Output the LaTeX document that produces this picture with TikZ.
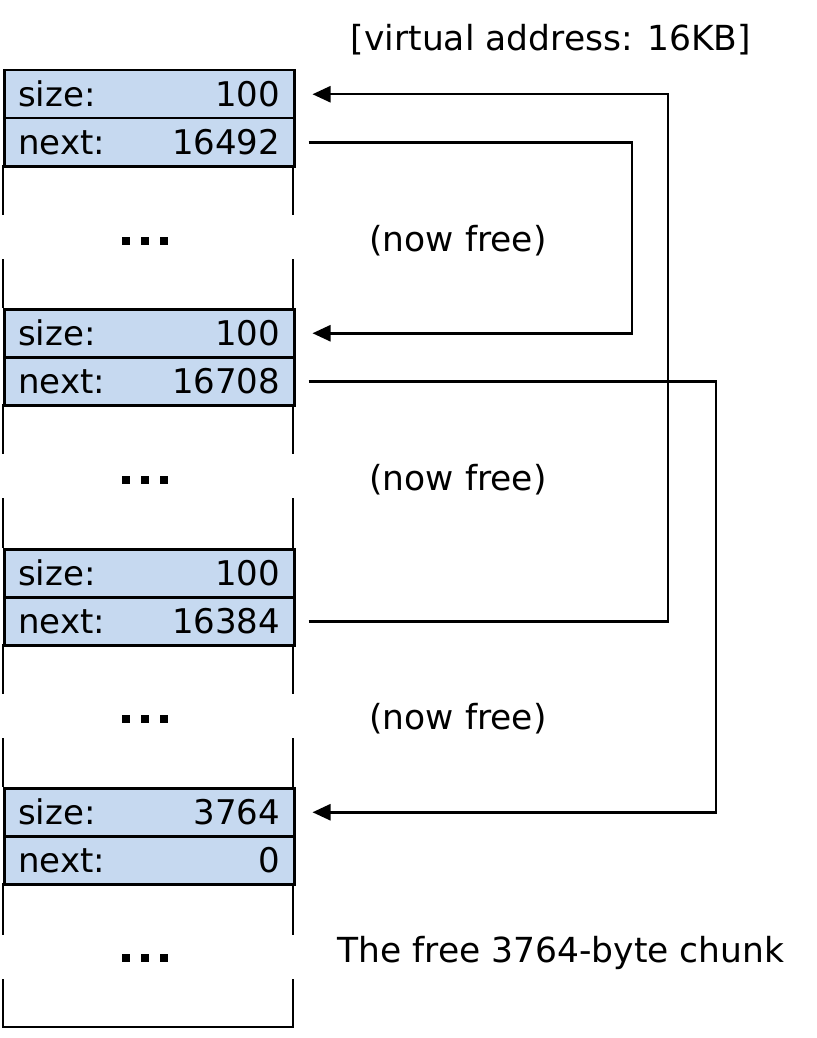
\documentclass[tikz,border=0pt]{standalone}
\usepackage{fontspec}
\setmainfont{DejaVu Sans}
\usetikzlibrary{arrows.meta}

\definecolor{cellblue}{RGB}{198,217,240}
\tikzset{
  row/.style={draw, line width=2.5pt, fill=cellblue, minimum height=48pt,
    text width=262pt, inner xsep=14pt, inner ysep=0pt, anchor=north west,
    font=\fontsize{34}{40}\selectfont},
  label/.style={font=\fontsize{34.5}{40}\selectfont},
  side/.style={line width=2.5pt},
  link/.style={line width=2.5pt, -{Triangle[length=18pt,width=16pt]},
    shorten <=13pt, shorten >=17pt},
}
\newcommand{\threedots}[1]{%
  \fill (122,#1-4) rectangle ++(8,8);
  \fill (141,#1-4) rectangle ++(8,8);
  \fill (160,#1-4) rectangle ++(8,8);
}

\begin{document}
\begin{tikzpicture}[x=1pt,y=-1pt]
	\useasboundingbox (0,0) rectangle (816,1038);
	
	\node[row] (s1) at (3,69)  {size:\hfill 100};
	\node[row] (n1) at (3,117) {next:\hfill 16492};
	\draw[side] (3,165) -- (3,215) (293,165) -- (293,215);
	\threedots{241}
	\draw[side] (3,259) -- (3,308) (293,259) -- (293,308);
	
	\node[row] (s2) at (3,308) {size:\hfill 100};
	\node[row] (n2) at (3,356) {next:\hfill 16708};
	\draw[side] (3,404) -- (3,454) (293,404) -- (293,454);
	\threedots{480}
	\draw[side] (3,498) -- (3,548) (293,498) -- (293,548);
	
	\node[row] (s3) at (3,548) {size:\hfill 100};
	\node[row] (n3) at (3,596) {next:\hfill 16384};
	\draw[side] (3,644) -- (3,694) (293,644) -- (293,694);
	\threedots{719}
	\draw[side] (3,738) -- (3,787) (293,738) -- (293,787);
	
	\node[row] (s4) at (3,787) {size:\hfill 3764};
	\node[row] (n4) at (3,835) {next:\hfill 0};
	\draw[side] (3,883) -- (3,935) (293,883) -- (293,935);
	\threedots{958}
	\draw[side] (3,979) -- (3,1027) -- (293,1027) -- (293,979);
	
	\node[label] (va) at (551,40) {[virtual address: 16KB]};
	\node[label] (f1) at (458,241) {(now free)};
	\node[label] (f2) at (458,480) {(now free)};
	\node[label] (f3) at (458,719) {(now free)};
	\node[label] (chunk) at (561,953) {The free 3764-byte chunk};
	
	\coordinate (c1) at (668,0);
	\coordinate (c2) at (632,0);
	\coordinate (c3) at (716,0);
	\draw[link] (n3.east) -- (n3.east -| c1) |- (s1.east);
	\draw[link] (n1.east) -- (n1.east -| c2) |- (s2.east);
	\draw[link] (n2.east) -- (n2.east -| c3) |- (s4.east);
\end{tikzpicture}
\end{document}
